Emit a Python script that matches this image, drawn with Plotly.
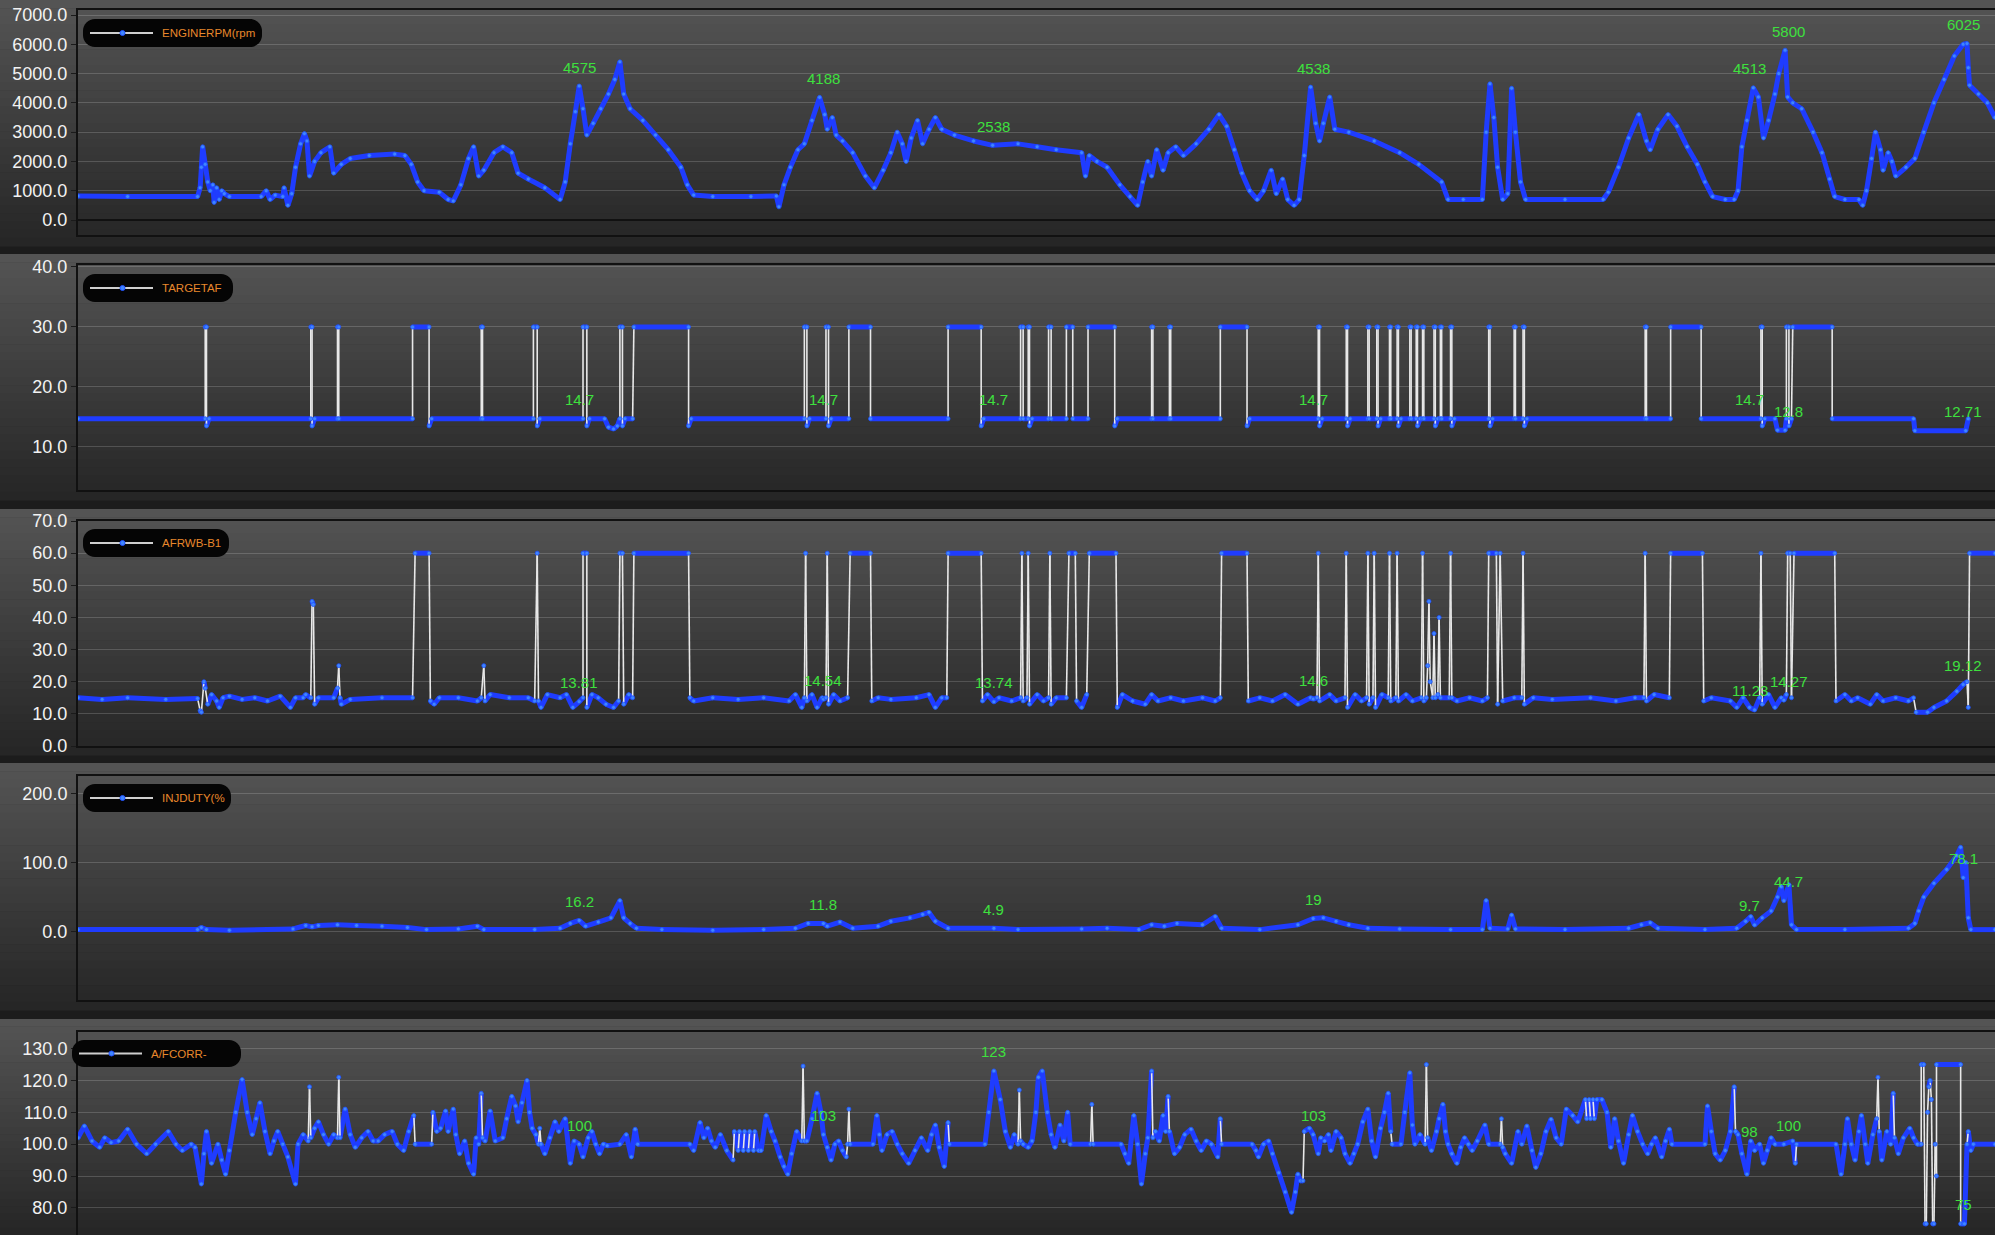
import plotly.graph_objects as go

W, H = 1995, 1235

# ---------------- DATA (time in samples) ----------------
MARK_T = [455, 647, 781, 1032, 1379, 1402, 1543]

RPM = [(61,820),(100,800),(155,800),(157,1100),(158,1800),(159,2500),(161,1900),(163,1300),(165,1000),(167,1200),(168,600),(170,1100),(172,700),(174,1000),(176,900),(180,800),(205,800),(209,1000),(212,700),(216,850),(222,800),(223,1100),(226,500),(229,900),(232,1800),(236,2600),(239,2950),(241,2700),(243,1500),(247,2000),(252,2300),(259,2500),(262,1600),(268,1900),(275,2100),(290,2200),(310,2250),(318,2200),(323,1900),(328,1300),(333,1000),(345,950),(352,700),(356,650),(362,1200),(368,2100),(372,2500),(376,1500),(380,1700),(388,2300),(395,2500),(402,2300),(407,1600),(415,1400),(428,1100),(440,700),(444,1300),(448,2600),(452,3700),(455,4575),(458,3800),(461,2900),(466,3300),(472,3800),(478,4300),(483,4800),(487,5400),(490,4300),(495,3800),(505,3400),(515,2900),(525,2400),(535,1800),(540,1200),(545,850),(560,800),(590,800),(610,820),(612,450),(616,1200),(621,1800),(627,2400),(632,2600),(638,3400),(644,4188),(648,3600),(650,3100),(654,3500),(657,2900),(662,2700),(670,2300),(680,1500),(687,1100),(694,1700),(700,2300),(705,3000),(709,2600),(712,2000),(716,2800),(721,3400),(725,2600),(730,3100),(735,3500),(740,3100),(750,2900),(765,2700),(780,2550),(800,2600),(815,2500),(830,2400),(850,2300),(853,1500),(856,2200),(862,2000),(870,1800),(880,1200),(888,800),(894,500),(898,1300),(902,2000),(905,1500),(909,2400),(914,1700),(918,2300),(924,2500),(930,2200),(940,2600),(950,3100),(958,3600),(964,3200),(970,2400),(976,1600),(982,1000),(988,700),(993,1000),(999,1700),(1003,900),(1008,1400),(1012,700),(1017,500),(1021,700),(1025,2200),(1030,4538),(1034,3300),(1037,2700),(1040,3300),(1045,4200),(1049,3100),(1060,3000),(1080,2700),(1100,2300),(1115,1900),(1133,1300),(1138,700),(1150,700),(1165,700),(1168,3000),(1171,4650),(1174,3500),(1177,1800),(1181,700),(1185,900),(1188,4500),(1191,3000),(1195,1300),(1199,700),(1230,700),(1260,700),(1264,950),(1272,1800),(1280,2800),(1288,3600),(1294,2700),(1297,2400),(1303,3100),(1311,3600),(1318,3200),(1326,2500),(1334,1900),(1340,1300),(1346,800),(1356,700),(1363,700),(1366,1000),(1369,2500),(1373,3400),(1378,4513),(1382,4200),(1386,2800),(1390,3400),(1395,4300),(1398,5000),(1403,5800),(1405,4200),(1409,4000),(1416,3800),(1425,3000),(1432,2300),(1438,1400),(1442,800),(1450,700),(1461,700),(1464,500),(1467,1000),(1471,2100),(1474,3000),(1478,2400),(1480,1700),(1484,2300),(1487,2000),(1490,1500),(1498,1800),(1505,2100),(1512,3000),(1520,4000),(1528,4800),(1536,5600),(1543,6000),(1546,6025),(1547,5200),(1548,4600),(1555,4300),(1562,4000),(1568,3500)]

TARGETAF = [(61,14.7),(161,14.7),(161,30),(162,30),(162,13.5),(164,14.7),(244,14.7),(244,30),(245,30),(245,13.5),(247,14.7),(265,14.7),(265,30),(266,30),(266,14.7),(324,14.7),(324,30),(337,30),(337,13.5),(339,14.7),(378,14.7),(378,30),(379,30),(379,14.7),(419,14.7),(419,30),(422,30),(422,13.5),(424,14.7),(458,14.7),(458,30),(461,30),(461,13.5),(463,14.7),(475,14.7),(478,13.3),(482,13),(485,13.5),(487,14.7),(487,30),(489,30),(489,13.5),(491,14.7),(497,14.7),(498,30),(541,30),(541,13.5),(543,14.7),(632,14.7),(632,30),(634,30),(634,13.5),(636,14.7),(649,14.7),(649,30),(651,30),(651,13.5),(653,14.7),(667,14.7),(667,30),(684,30),(684,14.7),(745,14.7),(745,30),(771,30),(771,13.5),(773,14.7),(802,14.7),(802,30),(804,30),(804,14.7),(808,14.7),(808,30),(809,30),(809,13.5),(811,14.7),(824,14.7),(824,30),(826,30),(826,14.7),(838,14.7),(838,30),(843,30),(843,14.7),(855,14.7),(855,30),(876,30),(876,13.5),(878,14.7),(905,14.7),(905,30),(906,30),(906,14.7),(919,14.7),(919,30),(920,30),(920,14.7),(959,14.7),(959,30),(980,30),(980,13.5),(982,14.7),(1036,14.7),(1036,30),(1037,30),(1037,13.5),(1039,14.7),(1058,14.7),(1058,30),(1059,30),(1059,13.5),(1061,14.7),(1075,14.7),(1075,30),(1076,30),(1076,14.7),(1082,14.7),(1082,30),(1083,30),(1083,13.5),(1085,14.7),(1092,14.7),(1092,30),(1093,30),(1093,14.7),(1098,14.7),(1098,30),(1099,30),(1099,13.5),(1101,14.7),(1108,14.7),(1108,30),(1109,30),(1109,14.7),(1113,14.7),(1113,30),(1114,30),(1114,13.5),(1116,14.7),(1118,14.7),(1118,30),(1119,30),(1119,14.7),(1127,14.7),(1127,30),(1128,30),(1128,13.5),(1130,14.7),(1132,14.7),(1132,30),(1133,30),(1133,14.7),(1140,14.7),(1140,30),(1141,30),(1141,13.5),(1143,14.7),(1170,14.7),(1170,30),(1171,30),(1171,13.5),(1173,14.7),(1190,14.7),(1190,30),(1191,30),(1191,14.7),(1197,14.7),(1197,30),(1198,30),(1198,13.5),(1200,14.7),(1293,14.7),(1293,30),(1294,30),(1294,14.7),(1313,14.7),(1313,30),(1337,30),(1337,14.7),(1384,14.7),(1384,30),(1385,30),(1385,13.5),(1387,14.7),(1395,14.7),(1397,12.8),(1403,12.8),(1404,14.7),(1404,30),(1406,30),(1406,13.5),(1408,14.7),(1409,30),(1440,30),(1440,14.7),(1504,14.7),(1505,12.71),(1545,12.71),(1547,14.7)]

AFRWB = [(61,15),(80,14.5),(100,15),(130,14.5),(155,14.8),(157,11),(158,10.5),(160,20),(161,18),(163,13),(166,16),(170,14),(172,12),(175,15),(180,15.5),(190,14.5),(200,15),(210,14),(220,15.5),(228,12),(232,15),(238,15),(240,16),(244,15),(245,45),(246,44),(247,13),(250,15),(262,15),(265,18),(266,25),(267,15),(268,13),(275,14.5),(300,15),(324,15),(326,60),(337,60),(338,14),(341,13),(345,15),(360,15),(375,14),(378,15),(380,25),(381,14),(385,16),(400,15),(415,15),(420,14),(422,60),(423,14),(425,12),(430,16),(440,15),(445,16),(450,12),(455,13.81),(458,15),(458,60),(461,60),(461,12),(465,16),(470,15),(476,13),(482,12),(486,14),(487,60),(489,60),(490,13),(494,16),(497,15),(498,60),(541,60),(542,15),(545,14),(560,15),(580,14.5),(600,15),(620,14),(625,16),(630,12),(632,15),(633,60),(634,14),(638,16),(642,12),(646,15),(647,14.54),(649,15),(650,60),(651,13),(655,16),(660,14),(666,15),(668,60),(684,60),(685,14),(690,15),(700,14.5),(720,15),(730,16),(735,12),(740,15),(744,15),(745,60),(771,60),(772,14),(776,16),(781,13.74),(785,15),(795,14),(802,15),(803,60),(804,14),(807,15),(808,60),(809,13),(815,16),(820,14),(824,15),(825,60),(826,13),(830,15),(838,15),(840,60),(845,60),(846,14),(850,12),(854,16),(856,60),(877,60),(878,12),(882,16),(890,14),(900,13),(905,16),(910,14),(920,15),(930,14),(945,15),(955,14),(959,15),(960,60),(980,60),(981,14),(990,15),(1000,14),(1010,16),(1020,13),(1030,15),(1032,14.6),(1035,15),(1036,60),(1037,14),(1045,16),(1050,14),(1057,15),(1058,60),(1059,12),(1065,16),(1070,14),(1074,15),(1075,60),(1076,13),(1079,15),(1080,60),(1081,12),(1086,16),(1091,15),(1092,60),(1093,14),(1097,15),(1098,60),(1099,14),(1105,16),(1110,14),(1117,15),(1118,60),(1119,14),(1121,15),(1122,25),(1123,45),(1124,20),(1126,15),(1127,35),(1128,15),(1130,16),(1131,40),(1132,15),(1139,15),(1140,60),(1141,15),(1145,14),(1155,15),(1165,14),(1169,15),(1170,60),(1176,60),(1177,13),(1179,60),(1181,14),(1190,15),(1196,15),(1197,60),(1198,13),(1205,15),(1220,14.5),(1250,15),(1270,14),(1285,15),(1292,15),(1293,60),(1294,14),(1300,16),(1312,15),(1313,60),(1338,60),(1339,14),(1345,15),(1360,14),(1365,12),(1370,15),(1375,12),(1379,11.23),(1383,15),(1384,60),(1385,13),(1390,16),(1395,12),(1400,15),(1402,14.27),(1404,16),(1405,60),(1407,60),(1408,15),(1410,60),(1442,60),(1443,14),(1450,16),(1455,14),(1460,15),(1470,13),(1475,16),(1480,14),(1490,15),(1500,14),(1504,15),(1506,10.5),(1515,10.5),(1520,12),(1530,14),(1538,17),(1543,19.12),(1546,20),(1547,12),(1548,60),(1568,60)]

INJDUTY = [(61,3),(155,3),(158,6),(162,3),(180,2),(230,4),(240,9),(245,7),(250,9),(265,10),(280,9),(300,8),(320,6),(335,3),(360,4),(375,8),(380,3),(420,3),(440,5),(448,12),(455,16.2),(460,8),(470,14),(480,20),(487,45),(490,20),(495,12),(500,5),(520,3),(560,2),(600,3),(625,5),(635,12),(647,11.8),(650,8),(660,14),(670,5),(690,8),(700,15),(715,20),(725,25),(730,28),(735,15),(745,5),(781,4.9),(800,3),(850,4),(870,5),(895,3),(905,10),(915,8),(925,12),(945,10),(955,22),(960,5),(990,3),(1020,10),(1032,19),(1040,20),(1050,15),(1060,10),(1075,5),(1100,4),(1140,3),(1165,3),(1168,45),(1171,5),(1185,4),(1188,24),(1191,4),(1230,3),(1280,5),(1290,10),(1297,13),(1303,5),(1340,3),(1365,5),(1372,15),(1376,22),(1379,9.7),(1385,20),(1392,30),(1397,50),(1400,65),(1402,44.7),(1406,68),(1408,10),(1412,3),(1450,3),(1500,5),(1505,12),(1508,30),(1512,50),(1520,70),(1530,90),(1538,110),(1541,122),(1543,78.1),(1545,100),(1547,20),(1549,3),(1568,3)]

AFCORR = [(61,102),(66,105.7),(72,101),(78,99),(82,102),(87,100.5),(93,101),(100,104.7),(107,100),(115,97),(122,100),(132,104),(138,100),(143,98),(150,100),(153,99),(158,87.5),(160,97),(162,104),(166,94),(171,100),(174,95),(177,90.6),(180,98),(185,110),(190,120.3),(194,110),(198,103),(201,108),(204,113),(208,104),(212,97),(215,101),(218,104),(222,100),(226,96),(232,87.5),(234,100),(238,103),(242,101),(243,118),(244,102),(247,105),(250,107),(254,103),(258,100),(262,103),(265,102),(266,121),(267,102),(271,111),(275,103),(279,99),(284,102),(289,104),(293,101),(297,101),(302,103),(308,104),(312,100),(317,98),(321,104),(325,109),(326,100),(339,100),(340,110),(343,104),(346,105),(350,110.4),(352,104),(356,111),(358,103),(361,97),(365,101),(368,94),(372,90.6),(374,102),(376,100),(378,116),(379,102),(381,101),(385,110.4),(389,101),(395,102),(398,108),(402,115),(405,112),(407,107),(410,113),(414,120),(416,110),(418,105),(421,103),(423,100),(424,105),(425,100),(428,97),(432,102),(436,107),(439,104),(444,108),(448,94),(451,101),(455,100),(458,96),(462,102),(465,104),(468,100),(471,97),(474,100),(477,99.5),(487,100),(492,103),(496,96),(499,104.7),(501,100),(542,100),(545,98),(550,106.8),(553,102),(556,105),(559,101),(562,99),(566,103),(571,98),(576,95),(577,104),(580,98),(581,104),(584,98),(585,104),(588,98),(589,104),(592,98),(593,104),(596,98),(598,98),(602,109),(606,104),(609,101),(613,96),(616,93),(619,90.6),(622,97),(626,104),(630,101),(631,124.5),(632,101),(634,101),(638,108),(642,116),(645,110),(647,103),(650,99),(653,95),(656,100),(659,101),(662,98),(665,96),(666,100),(667,111),(668,100),(686,100),(689,109),(691,103),(693,98),(697,103),(701,104),(705,100),(709,97),(714,94),(719,98),(724,102),(729,98),(732,103),(735,106),(738,99),(742,93),(745,106.8),(746,100),(774,100),(777,110),(781,123),(786,114),(790,104),(794,99),(797,103),(800,100),(801,117),(802,101),(804,100),(808,99),(811,101),(814,110),(816,121),(819,123),(823,110),(826,103),(829,99),(833,106),(836,101),(839,110),(841,100),(857,100),(858,112.5),(859,100),(881,100),(884,97),(887,94),(891,109),(894,100),(897,87.5),(900,97),(902,102),(905,123),(906,102),(908,104),(911,101),(914,109),(916,104),(918,115),(919,104),(923,97),(927,99),(931,103),(936,104.7),(940,101),(944,98),(948,101),(952,100),(957,96),(959,108),(960,100),(984,100),(987,98),(989,96),(993,100),(997,101),(1000,97),(1005,91),(1010,85),(1015,78.6),(1018,85),(1020,90.6),(1022,88.5),(1024,88.5),(1025,104),(1029,105),(1032,103),(1036,97),(1038,102),(1041,101),(1044,103),(1046,98),(1050,104),(1054,102),(1057,97),(1061,94),(1064,97),(1067,100),(1071,107),(1075,111),(1078,101),(1081,96),(1085,105),(1088,110),(1091,116),(1093,104),(1094,100),(1101,100),(1104,110),(1108,122.4),(1110,106),(1112,100),(1116,103),(1120,100),(1121,125),(1122,102),(1125,98),(1129,104),(1131,108),(1134,112.5),(1136,104),(1138,100),(1141,97),(1145,94),(1148,99),(1151,102),(1154,100),(1157,98),(1161,101),(1167,106),(1170,100),(1179,100),(1180,108),(1181,99),(1183,97),(1188,94),(1193,104),(1196,100),(1200,105.7),(1204,98),(1207,92.7),(1211,97),(1215,104),(1219,107.8),(1223,102),(1227,100),(1231,111),(1236,109),(1240,107),(1246,114),(1247,108),(1249,114),(1250,108),(1252,114),(1253,108),(1255,114),(1259,114),(1263,110),(1266,99),(1269,108),(1272,101),(1276,94),(1280,103),(1283,109),(1287,104),(1291,100),(1295,97),(1298,100),(1301,102),(1306,96),(1309,101),(1312,104.7),(1314,100),(1340,100),(1342,112),(1345,104),(1348,97),(1352,95),(1356,98),(1360,104),(1363,118),(1364,104),(1366,103),(1369,97),(1373,90.6),(1376,101),(1379,98),(1383,100),(1386,94),(1389,98),(1392,102),(1395,100),(1402,100),(1409,101),(1411,94),(1412,100),(1443,100),(1447,90.6),(1450,100),(1452,108),(1455,100),(1458,95),(1461,104),(1463,109),(1466,100),(1468,94),(1472,103),(1475,108),(1476,121),(1477,104),(1479,95),(1483,104),(1486,100),(1488,116),(1489,102),(1492,97),(1496,102),(1501,105),(1504,102),(1507,100),(1510,100),(1510,125),(1512,125),(1513,75),(1514,75),(1515,110),(1516,118),(1517,120),(1518,114),(1519,75),(1520,75),(1521,100),(1522,90),(1522,125),(1541,125),(1541,75),(1543,75),(1544,75),(1546,100),(1547,104),(1549,98),(1551,100),(1568,100)]

LABELS = {
    "ENGINERPM(rpm": [4575, 4188, 2538, 4538, 4513, 5800, 6025],
    "TARGETAF": [14.7, 14.7, 14.7, 14.7, 14.7, 12.8, 12.71],
    "AFRWB-B1": [13.81, 14.54, 13.74, 14.6, 11.23, 14.27, 19.12],
    "INJDUTY(%": [16.2, 11.8, 4.9, 19, 9.7, 44.7, 78.1],
    "A/FCORR-": [100, 103, 123, 103, 98, 100, 75],
}

# ---------------- LAYOUT / STYLE ----------------
PANELS = [
    dict(name="ENGINERPM(rpm", data=RPM, frame=(10, 235), rng=[-512, 7171], ticks=list(range(0, 7001, 1000)),
         bg=(0, 246), pill=(83, 19, 262, 47), split=0, zero=True),
    dict(name="TARGETAF", data=TARGETAF, frame=(265, 490), rng=[2.83, 40.33], ticks=[10, 20, 30, 40],
         bg=(254, 500), pill=(83, 274, 233, 302), split=2.5, zero=False),
    dict(name="AFRWB-B1", data=AFRWB, frame=(521, 746), rng=[0, 70], ticks=list(range(0, 71, 10)),
         bg=(509, 755), pill=(83, 529, 229, 557), split=2.5, zero=False),
    dict(name="INJDUTY(%", data=INJDUTY, frame=(776, 1000), rng=[-98.7, 225], ticks=[0, 100, 200],
         bg=(763, 1010), pill=(83, 784, 231, 812), split=0, zero=False),
    dict(name="A/FCORR-", data=AFCORR, frame=(1032, 1235), rng=[71.5, 135.2], ticks=list(range(80, 131, 10)),
         bg=(1019, 1235), pill=(72, 1040, 241, 1067), split=1.5, zero=False),
]
LABEL_XSHIFT = [0, 0, 0, 0, -5, 5, 0]

X0PX = 78
XR = [61, 1568]
BLUE = "#1f3cff"
DOT = "#3f86ff"
FONT = "Liberation Sans, Arial, sans-serif"


def px2x(px):
    return px / W


def px2y(py):
    return 1 - py / H


def lerp_color(c0, c1, f):
    a = [int(c0[i:i + 2], 16) for i in (1, 3, 5)]
    b = [int(c1[i:i + 2], 16) for i in (1, 3, 5)]
    return "rgb(%d,%d,%d)" % tuple(round(a[k] + (b[k] - a[k]) * f) for k in range(3))


def rounded_rect(x0, y0, x1, y1, r):
    k = 0.5523 * r
    P = lambda x, y: f"{px2x(x):.5f},{px2y(y):.5f}"
    return (f"M {P(x0 + r, y0)} L {P(x1 - r, y0)} C {P(x1 - r + k, y0)} {P(x1, y0 + r - k)} {P(x1, y0 + r)} "
            f"L {P(x1, y1 - r)} C {P(x1, y1 - r + k)} {P(x1 - r + k, y1)} {P(x1 - r, y1)} "
            f"L {P(x0 + r, y1)} C {P(x0 + r - k, y1)} {P(x0, y1 - r + k)} {P(x0, y1 - r)} "
            f"L {P(x0, y0 + r)} C {P(x0, y0 + r - k)} {P(x0 + r - k, y0)} {P(x0 + r, y0)} Z")


fig = go.Figure()
shapes = []
annotations = []
layout_axes = {}

for i, p in enumerate(PANELS):
    n = i + 1
    xa = "x" if n == 1 else f"x{n}"
    ya = "y" if n == 1 else f"y{n}"
    xkey = "xaxis" if n == 1 else f"xaxis{n}"
    ykey = "yaxis" if n == 1 else f"yaxis{n}"
    ftop, fbot = p["frame"]
    dom = [max(0, px2y(fbot)), min(1, px2y(ftop))]
    rng = p["rng"]
    px_per_v = (fbot - ftop) / (rng[1] - rng[0])

    # background gradient bands
    b0, b1 = p["bg"]
    nb = 30
    for k in range(nb):
        y0 = b0 + (b1 - b0) * k / nb
        y1 = min(H, b0 + (b1 - b0) * (k + 1) / nb + 0.5)
        shapes.append(dict(type="rect", xref="paper", yref="paper", x0=0, x1=1,
                           y0=px2y(y1), y1=px2y(y0), line=dict(width=0),
                           fillcolor=lerp_color("#545454", "#262626", k / (nb - 1)), layer="below"))

    t = [a for a, b in p["data"]]
    v = [b for a, b in p["data"]]
    bx, by, wx, wy = [], [], [], []
    for j in range(len(t) - 1):
        dt = abs(t[j + 1] - t[j])
        dy = abs(v[j + 1] - v[j]) * px_per_v
        steep = p["split"] > 0 and dt <= p["split"] and dy > 12
        if steep:
            wx += [t[j], t[j + 1], None]
            wy += [v[j], v[j + 1], None]
        else:
            bx += [t[j], t[j + 1], None]
            by += [v[j], v[j + 1], None]
    fig.add_trace(go.Scatter(x=bx, y=by, mode="lines", line=dict(color=BLUE, width=5),
                             xaxis=xa, yaxis=ya, hoverinfo="skip"))
    if wx:
        fig.add_trace(go.Scatter(x=wx, y=wy, mode="lines", line=dict(color="#e8e8e8", width=1.6),
                                 xaxis=xa, yaxis=ya, hoverinfo="skip"))
    fig.add_trace(go.Scatter(x=t, y=v, mode="markers",
                             marker=dict(color=DOT, size=4, line=dict(color="#2050ff", width=0.8)),
                             xaxis=xa, yaxis=ya, name=p["name"]))

    layout_axes[xkey] = dict(domain=[px2x(X0PX), 1], range=XR, anchor=ya, showgrid=False,
                             zeroline=False, showticklabels=False, showline=True, mirror=True,
                             linecolor="#111111", linewidth=2, ticks="", automargin=False)
    layout_axes[ykey] = dict(domain=dom, range=rng, anchor=xa, tickvals=p["ticks"],
                             ticktext=[f"{tv:.1f}" for tv in p["ticks"]],
                             tickfont=dict(family=FONT, size=18, color="#f2f2f2"),
                             showgrid=True, gridcolor="rgba(255,255,255,0.17)", gridwidth=1,
                             zeroline=p["zero"], zerolinecolor="#111111", zerolinewidth=2,
                             showline=True, linecolor="#111111", linewidth=2,
                             ticks="outside", ticklen=5, tickcolor="#1a1a1a", automargin=False)

    # legend pill
    x0, y0, x1, y1 = p["pill"]
    shapes.append(dict(type="path", xref="paper", yref="paper", path=rounded_rect(x0, y0, x1, y1, 12),
                       fillcolor="#050505", line=dict(width=0), layer="above"))
    ym = (y0 + y1) / 2
    shapes.append(dict(type="line", xref="paper", yref="paper", x0=px2x(x0 + 7), x1=px2x(x0 + 70),
                       y0=px2y(ym), y1=px2y(ym), line=dict(color="#cfcfcf", width=2), layer="above"))
    shapes.append(dict(type="circle", xref="paper", yref="paper", x0=px2x(x0 + 37), x1=px2x(x0 + 42),
                       y0=px2y(ym + 2.5), y1=px2y(ym - 2.5), fillcolor=DOT, line=dict(color="#2050ff", width=1),
                       layer="above"))
    annotations.append(dict(xref="paper", yref="paper", x=px2x(x0 + 77), y=px2y(ym), xanchor="left",
                            yanchor="middle", text=p["name"], showarrow=False,
                            font=dict(family=FONT, size=11.5, color="#e8882c")))

    # value labels at the cursor times
    for tm, val, xs in zip(MARK_T, LABELS[p["name"]], LABEL_XSHIFT):
        annotations.append(dict(xref=xa, yref=ya, x=tm, y=val, text=f"{val:g}", showarrow=False,
                                yshift=19, xshift=xs, font=dict(family=FONT, size=15, color="#3ee03e")))

fig.update_layout(width=W, height=H, autosize=False,
                  margin=dict(l=0, r=0, t=0, b=0, pad=0, autoexpand=False), showlegend=False,
                  paper_bgcolor="#1c1c1c", plot_bgcolor="rgba(0,0,0,0)",
                  shapes=shapes, annotations=annotations, **layout_axes)

POST = ("var d=document.getElementById('{plot_id}');"
        "d.style.position='fixed';d.style.top='0px';d.style.left='0px';"
        "document.documentElement.style.overflow='hidden';"
        "document.body.style.margin='0px';document.body.style.padding='0px';document.body.style.overflow='hidden';")

fig.write_html("out.html", config={"displayModeBar": False}, post_script=POST)
